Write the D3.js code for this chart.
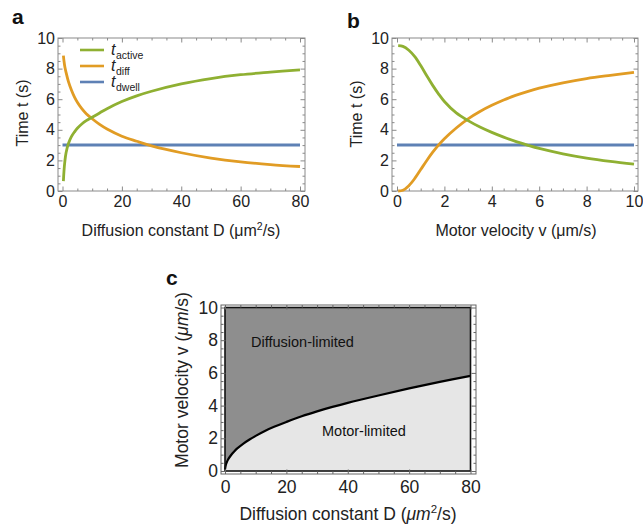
<!DOCTYPE html>
<html><head><meta charset="utf-8">
<script src="https://cdn.jsdelivr.net/npm/d3@7"></script>
<style>
html,body{margin:0;padding:0;background:#fff;}
svg{display:block;font-family:"Liberation Sans",Arial,Helvetica,sans-serif;}
</style></head>
<body>
<svg id="chart" width="643" height="524"></svg>
<script>
// ---------- Data ----------
// Panel a: times vs diffusion constant D (µm²/s)
const aD       = [0.3, 0.5, 0.8, 1.2, 2, 3, 4, 5, 6.5, 8, 10, 12.5, 15, 20, 25, 30, 40, 50, 60, 70, 80];
const aTdiff   = [8.85, 8.5, 8.1, 7.75, 7.15, 6.6, 6.15, 5.8, 5.38, 5.05, 4.72, 4.35, 4.05, 3.58, 3.25, 2.95, 2.5, 2.15, 1.9, 1.73, 1.6];
const aTactive = [0.65, 1.3, 1.95, 2.5, 3.1, 3.55, 3.85, 4.1, 4.38, 4.6, 4.82, 5.1, 5.38, 5.85, 6.22, 6.52, 7.0, 7.35, 7.6, 7.77, 7.92];
const aTdwell  = [3, 3];
const aDwellD  = [0, 80];
// Panel b: times vs motor velocity v (µm/s)
const bV       = [0.05, 0.25, 0.5, 0.75, 1, 1.25, 1.5, 1.75, 2, 2.5, 3, 3.5, 4, 4.5, 5, 5.5, 6, 7, 8, 9, 10];
const bTactive = [9.5, 9.45, 9.2, 8.78, 8.2, 7.55, 6.92, 6.35, 5.85, 5.1, 4.6, 4.18, 3.83, 3.52, 3.24, 3.0, 2.78, 2.43, 2.15, 1.93, 1.75];
const bTdiff   = [0.0, 0.05, 0.35, 0.82, 1.4, 1.98, 2.52, 3.0, 3.42, 4.12, 4.72, 5.2, 5.6, 5.95, 6.25, 6.5, 6.72, 7.07, 7.35, 7.56, 7.75];
const bTdwell  = [3, 3];
const bDwellV  = [0, 10];
// Panel c: boundary between regimes
const cD = [0, 0.25, 0.5, 1, 2, 3, 4, 6, 8, 10, 13, 16, 20, 25, 30, 35, 40, 50, 60, 70, 80];
const cV = [0.1, 0.35, 0.5, 0.7, 0.98, 1.2, 1.38, 1.68, 1.93, 2.15, 2.45, 2.7, 3.0, 3.35, 3.65, 3.92, 4.17, 4.62, 5.05, 5.45, 5.82];
// Tick labels
const abYTicks = [0, 2, 4, 6, 8, 10];
const aXTicks  = [0, 20, 40, 60, 80];
const bXTicks  = [0, 2, 4, 6, 8, 10];
const cXTicks  = [0, 20, 40, 60, 80];
const cYTicks  = [0, 2, 4, 6, 8, 10];
const legendNames = ["active", "diff", "dwell"];

const GREEN = "#8fb032", ORANGE = "#e19c24", BLUE = "#5e81b5";
const svg = d3.select("#chart");

function frame(g, box, xs, ys, xMaj, xMin, yMaj, yMin, opts) {
  const o = Object.assign({fs: 16, color: "#8a8a8a", xpad: 5, ypad: 3}, opts || {});
  g.append("rect").attr("x", box.x0).attr("y", box.y0)
    .attr("width", box.x1 - box.x0).attr("height", box.y1 - box.y0)
    .attr("fill", "none").attr("stroke", o.color).attr("stroke-width", 1);
  const defs = [
    [d3.axisBottom, box.y1, "x", true], [d3.axisTop, box.y0, "x", false],
    [d3.axisLeft, box.x0, "y", true], [d3.axisRight, box.x1, "y", false]
  ];
  defs.forEach(([ax, pos, dim, lab]) => {
    const sc = dim === "x" ? xs : ys;
    const maj = dim === "x" ? xMaj : yMaj, mn = dim === "x" ? xMin : yMin;
    const tr = dim === "x" ? `translate(0,${pos})` : `translate(${pos},0)`;
    const gm = g.append("g").attr("transform", tr)
      .call(ax(sc).tickValues(mn).tickSize(-2.5).tickFormat(""));
    gm.select(".domain").remove();
    gm.selectAll("line").attr("stroke", o.color);
    const gM = g.append("g").attr("transform", tr)
      .call(ax(sc).tickValues(maj).tickSize(-4.5)
        .tickPadding(dim === "x" ? o.xpad : o.ypad)
        .tickFormat(lab ? d3.format("d") : ""));
    gM.select(".domain").remove();
    gM.selectAll("line").attr("stroke", o.color);
    gM.selectAll("text").attr("font-size", o.fs).attr("fill", "#222")
      .attr("font-family", "Liberation Sans, Arial, sans-serif");
  });
}

function minors(lo, hi, step, majors) {
  return d3.range(lo, hi + step / 2, step).filter(v => !majors.some(m => Math.abs(m - v) < 1e-9));
}

// ---------- Panel a ----------
const xA = d3.scaleLinear().domain([0, 80]).range([62.5, 300]);
const yA = d3.scaleLinear().domain([0, 10]).range([191, 38]);
const gA = svg.append("g");
frame(gA, {x0: 58, x1: 305, y0: 38, y1: 191}, xA, yA,
  aXTicks, minors(0, 80, 5, aXTicks), abYTicks, minors(0, 10, 0.5, abYTicks));
const lineA = d3.line().x(d => xA(d[0])).y(d => yA(d[1])).curve(d3.curveCatmullRom.alpha(0.5));
gA.append("path").datum(d3.zip(aDwellD, aTdwell)).attr("d", lineA)
  .attr("fill", "none").attr("stroke", BLUE).attr("stroke-width", 3);
gA.append("path").datum(d3.zip(aD, aTdiff)).attr("d", lineA)
  .attr("fill", "none").attr("stroke", ORANGE).attr("stroke-width", 2.8);
gA.append("path").datum(d3.zip(aD, aTactive)).attr("d", lineA)
  .attr("fill", "none").attr("stroke", GREEN).attr("stroke-width", 2.8);
// legend
const legColors = [GREEN, ORANGE, BLUE];
const legY = [50, 66, 82];
legendNames.forEach((n, i) => {
  gA.append("line").attr("x1", 80).attr("x2", 104).attr("y1", legY[i]).attr("y2", legY[i])
    .attr("stroke", legColors[i]).attr("stroke-width", 2.6);
  const t = gA.append("text").attr("x", 111).attr("y", legY[i] + 5).attr("fill", "#222");
  t.append("tspan").text("t").attr("font-style", "italic").attr("font-size", 16);
  t.append("tspan").text(n).attr("font-size", 10.5).attr("dy", 4).attr("dx", 0.5);
});
svg.append("text").attr("x", 12).attr("y", 24).text("a")
  .attr("font-weight", "bold").attr("font-size", 21).attr("fill", "#111");
svg.append("text").attr("transform", "translate(28,113) rotate(-90)")
  .attr("text-anchor", "middle").attr("font-size", 16).attr("fill", "#222").text("Time t (s)");
{
  const t = svg.append("text").attr("x", 181).attr("y", 236).attr("text-anchor", "middle")
    .attr("font-size", 16).attr("fill", "#222");
  t.append("tspan").text("Diffusion constant D (μm");
  t.append("tspan").text("2").attr("font-size", 10.5).attr("dy", -6);
  t.append("tspan").text("/s)").attr("dy", 6);
}

// ---------- Panel b ----------
const xB = d3.scaleLinear().domain([0, 10]).range([397, 634]);
const yB = d3.scaleLinear().domain([0, 10]).range([191, 38]);
const gB = svg.append("g");
frame(gB, {x0: 392, x1: 638, y0: 38, y1: 191}, xB, yB,
  bXTicks, minors(0, 10, 0.5, bXTicks), abYTicks, minors(0, 10, 0.5, abYTicks));
const lineB = d3.line().x(d => xB(d[0])).y(d => yB(d[1])).curve(d3.curveCatmullRom.alpha(0.5));
gB.append("path").datum(d3.zip(bDwellV, bTdwell)).attr("d", lineB)
  .attr("fill", "none").attr("stroke", BLUE).attr("stroke-width", 3);
gB.append("path").datum(d3.zip(bV, bTdiff)).attr("d", lineB)
  .attr("fill", "none").attr("stroke", ORANGE).attr("stroke-width", 2.8);
gB.append("path").datum(d3.zip(bV, bTactive)).attr("d", lineB)
  .attr("fill", "none").attr("stroke", GREEN).attr("stroke-width", 2.8);
svg.append("text").attr("x", 347).attr("y", 28).text("b")
  .attr("font-weight", "bold").attr("font-size", 21).attr("fill", "#111");
svg.append("text").attr("transform", "translate(362,114) rotate(-90)")
  .attr("text-anchor", "middle").attr("font-size", 16).attr("fill", "#222").text("Time t (s)");
svg.append("text").attr("x", 516).attr("y", 236).attr("text-anchor", "middle")
  .attr("font-size", 16).attr("fill", "#222").text("Motor velocity v (μm/s)");

// ---------- Panel c ----------
const xC = d3.scaleLinear().domain([0, 80]).range([225, 470.5]);
const yC = d3.scaleLinear().domain([0, 10]).range([471, 307.5]);
const gC = svg.append("g");
const curveC = d3.curveCatmullRom.alpha(0.5);
gC.append("rect").attr("x", xC(0)).attr("y", yC(10)).attr("width", xC(80) - xC(0))
  .attr("height", yC(0) - yC(10)).attr("fill", "#e6e6e6");
gC.append("path").datum(d3.zip(cD, cV))
  .attr("d", d3.area().x(d => xC(d[0])).y0(yC(10)).y1(d => yC(d[1])).curve(curveC))
  .attr("fill", "#8e8e8e");
gC.append("path").datum(d3.zip(cD, cV))
  .attr("d", d3.line().x(d => xC(d[0])).y(d => yC(d[1])).curve(curveC))
  .attr("fill", "none").attr("stroke", "#000").attr("stroke-width", 2.2);
gC.append("rect").attr("x", xC(0)).attr("y", yC(10)).attr("width", xC(80) - xC(0))
  .attr("height", yC(0) - yC(10)).attr("fill", "none").attr("stroke", "#111").attr("stroke-width", 1.6);
frame(gC, {x0: 221, x1: 476, y0: 305, y1: 474}, xC, yC,
  cXTicks, minors(0, 80, 5, cXTicks), cYTicks, minors(0, 10, 0.5, cYTicks),
  {fs: 17.5, color: "#666", xpad: 7, ypad: 3});
gC.append("text").attr("x", 251).attr("y", 347).attr("font-size", 14.5).attr("fill", "#111")
  .text("Diffusion-limited");
gC.append("text").attr("x", 322).attr("y", 436).attr("font-size", 14.5).attr("fill", "#111")
  .text("Motor-limited");
svg.append("text").attr("x", 166).attr("y", 285).text("c")
  .attr("font-weight", "bold").attr("font-size", 21).attr("fill", "#111");
{
  const t = svg.append("text").attr("transform", "translate(188,380) rotate(-90)")
    .attr("text-anchor", "middle").attr("font-size", 17.5).attr("fill", "#222");
  t.append("tspan").text("Motor velocity v (");
  t.append("tspan").text("μm").attr("font-style", "italic");
  t.append("tspan").text("/s)");
}
{
  const t = svg.append("text").attr("x", 348).attr("y", 520).attr("text-anchor", "middle")
    .attr("font-size", 17.5).attr("fill", "#222");
  t.append("tspan").text("Diffusion constant D (");
  t.append("tspan").text("μm").attr("font-style", "italic");
  t.append("tspan").text("2").attr("font-size", 11.5).attr("dy", -7);
  t.append("tspan").text("/s)").attr("dy", 7);
}
</script>
</body></html>
